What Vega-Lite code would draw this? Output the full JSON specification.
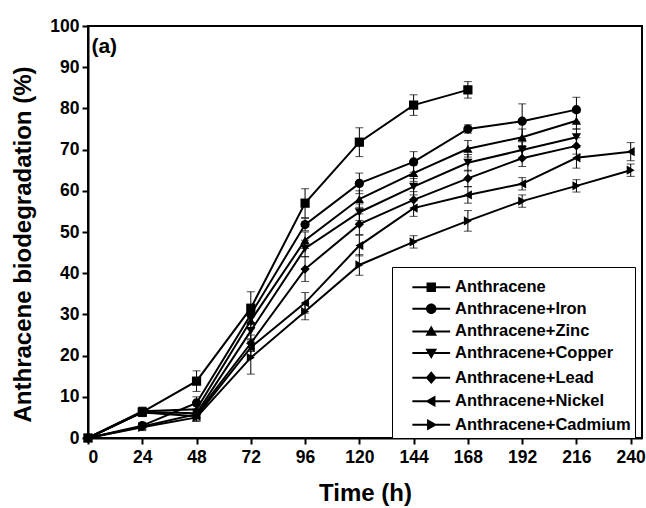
{
  "$schema": "https://vega.github.io/schema/vega-lite/v6.json",
  "autosize": "none",
  "width": 554,
  "height": 412,
  "padding": {"left": 88, "top": 26, "right": 4, "bottom": 70},
  "background": "white",
  "config": {
    "view": {"stroke": "black", "strokeWidth": 2},
    "font": "Liberation Sans",
    "axis": {
      "domainColor": "black", "domainWidth": 2, "tickColor": "black", "tickWidth": 2, "tickSize": 6,
      "labelFont": "Liberation Sans", "labelFontWeight": "bold", "labelFontSize": 17.5, "labelColor": "black",
      "titleFont": "Liberation Sans", "titleFontWeight": "bold", "titleFontSize": 24, "titleColor": "black",
      "grid": false
    }
  },
  "resolve": {"scale": {"shape": "independent"}, "legend": {"shape": "independent"}},
  "data": {"values": [
    {"series": "Anthracene", "time": 0, "value": 0, "err": 0},
    {"series": "Anthracene", "time": 24, "value": 6.3, "err": 1},
    {"series": "Anthracene", "time": 48, "value": 13.8, "err": 2.5},
    {"series": "Anthracene", "time": 72, "value": 31.5, "err": 4},
    {"series": "Anthracene", "time": 96, "value": 57, "err": 3.5},
    {"series": "Anthracene", "time": 120, "value": 71.8, "err": 3.5},
    {"series": "Anthracene", "time": 144, "value": 80.8, "err": 2.5},
    {"series": "Anthracene", "time": 168, "value": 84.5, "err": 2},
    {"series": "Anthracene+Iron", "time": 0, "value": 0, "err": 0},
    {"series": "Anthracene+Iron", "time": 24, "value": 3, "err": 0.8},
    {"series": "Anthracene+Iron", "time": 48, "value": 8.5, "err": 1.5},
    {"series": "Anthracene+Iron", "time": 72, "value": 30, "err": 2},
    {"series": "Anthracene+Iron", "time": 96, "value": 51.8, "err": 1.5},
    {"series": "Anthracene+Iron", "time": 120, "value": 61.8, "err": 2.5},
    {"series": "Anthracene+Iron", "time": 144, "value": 67, "err": 2.5},
    {"series": "Anthracene+Iron", "time": 168, "value": 75, "err": 1},
    {"series": "Anthracene+Iron", "time": 192, "value": 76.9, "err": 4.2},
    {"series": "Anthracene+Iron", "time": 216, "value": 79.7, "err": 3},
    {"series": "Anthracene+Zinc", "time": 0, "value": 0, "err": 0},
    {"series": "Anthracene+Zinc", "time": 24, "value": 6.5, "err": 1},
    {"series": "Anthracene+Zinc", "time": 48, "value": 7, "err": 1.2},
    {"series": "Anthracene+Zinc", "time": 72, "value": 28.5, "err": 2},
    {"series": "Anthracene+Zinc", "time": 96, "value": 48, "err": 2},
    {"series": "Anthracene+Zinc", "time": 120, "value": 58, "err": 2},
    {"series": "Anthracene+Zinc", "time": 144, "value": 64.3, "err": 2},
    {"series": "Anthracene+Zinc", "time": 168, "value": 70.2, "err": 2},
    {"series": "Anthracene+Zinc", "time": 192, "value": 73, "err": 2},
    {"series": "Anthracene+Zinc", "time": 216, "value": 77, "err": 2},
    {"series": "Anthracene+Copper", "time": 0, "value": 0, "err": 0},
    {"series": "Anthracene+Copper", "time": 24, "value": 6.3, "err": 1},
    {"series": "Anthracene+Copper", "time": 48, "value": 6, "err": 1},
    {"series": "Anthracene+Copper", "time": 72, "value": 26, "err": 2},
    {"series": "Anthracene+Copper", "time": 96, "value": 46, "err": 2},
    {"series": "Anthracene+Copper", "time": 120, "value": 54.8, "err": 2},
    {"series": "Anthracene+Copper", "time": 144, "value": 61, "err": 2},
    {"series": "Anthracene+Copper", "time": 168, "value": 66.8, "err": 2},
    {"series": "Anthracene+Copper", "time": 192, "value": 69.9, "err": 2},
    {"series": "Anthracene+Copper", "time": 216, "value": 73, "err": 2},
    {"series": "Anthracene+Lead", "time": 0, "value": 0, "err": 0},
    {"series": "Anthracene+Lead", "time": 24, "value": 2.8, "err": 0.8},
    {"series": "Anthracene+Lead", "time": 48, "value": 5.8, "err": 1},
    {"series": "Anthracene+Lead", "time": 72, "value": 23, "err": 2},
    {"series": "Anthracene+Lead", "time": 96, "value": 41, "err": 3},
    {"series": "Anthracene+Lead", "time": 120, "value": 51.9, "err": 2.5},
    {"series": "Anthracene+Lead", "time": 144, "value": 57.8, "err": 2},
    {"series": "Anthracene+Lead", "time": 168, "value": 63, "err": 2},
    {"series": "Anthracene+Lead", "time": 192, "value": 67.9, "err": 2},
    {"series": "Anthracene+Lead", "time": 216, "value": 70.9, "err": 2},
    {"series": "Anthracene+Nickel", "time": 0, "value": 0, "err": 0},
    {"series": "Anthracene+Nickel", "time": 24, "value": 6.2, "err": 1},
    {"series": "Anthracene+Nickel", "time": 48, "value": 5.3, "err": 1},
    {"series": "Anthracene+Nickel", "time": 72, "value": 22, "err": 2},
    {"series": "Anthracene+Nickel", "time": 96, "value": 32.8, "err": 2.5},
    {"series": "Anthracene+Nickel", "time": 120, "value": 46.7, "err": 2.5},
    {"series": "Anthracene+Nickel", "time": 144, "value": 55.8, "err": 2},
    {"series": "Anthracene+Nickel", "time": 168, "value": 59, "err": 2},
    {"series": "Anthracene+Nickel", "time": 192, "value": 61.7, "err": 1.5},
    {"series": "Anthracene+Nickel", "time": 216, "value": 68, "err": 2.5},
    {"series": "Anthracene+Nickel", "time": 240, "value": 69.5, "err": 2.2},
    {"series": "Anthracene+Cadmium", "time": 0, "value": 0, "err": 0},
    {"series": "Anthracene+Cadmium", "time": 24, "value": 2.6, "err": 0.8},
    {"series": "Anthracene+Cadmium", "time": 48, "value": 5, "err": 1},
    {"series": "Anthracene+Cadmium", "time": 72, "value": 19.5, "err": 4},
    {"series": "Anthracene+Cadmium", "time": 96, "value": 30.7, "err": 2},
    {"series": "Anthracene+Cadmium", "time": 120, "value": 42, "err": 2.5},
    {"series": "Anthracene+Cadmium", "time": 144, "value": 47.6, "err": 1.5},
    {"series": "Anthracene+Cadmium", "time": 168, "value": 52.7, "err": 2.5},
    {"series": "Anthracene+Cadmium", "time": 192, "value": 57.5, "err": 1.5},
    {"series": "Anthracene+Cadmium", "time": 216, "value": 61.2, "err": 1.5},
    {"series": "Anthracene+Cadmium", "time": 240, "value": 65, "err": 1.5}
  ]},
  "layer": [
    {
      "mark": {"type": "errorbar", "color": "black", "ticks": {"size": 8, "strokeWidth": 1}, "rule": {"strokeWidth": 1}},
      "encoding": {
        "x": {"field": "time", "type": "quantitative",
              "scale": {"domain": [0, 245], "nice": false},
              "axis": {"values": [0, 24, 48, 72, 96, 120, 144, 168, 192, 216, 240], "title": "Time (h)", "labelPadding": 4, "titlePadding": 16}},
        "y": {"field": "value", "type": "quantitative",
              "scale": {"domain": [0, 100], "nice": false},
              "axis": {"values": [0, 10, 20, 30, 40, 50, 60, 70, 80, 90, 100], "title": "Anthracene biodegradation (%)", "labelPadding": 3, "titlePadding": 14, "titleY": 218}},
        "yError": {"field": "err"}
      }
    },
    {
      "mark": {"type": "line", "color": "black", "strokeWidth": 2},
      "encoding": {
        "x": {"field": "time", "type": "quantitative"},
        "y": {"field": "value", "type": "quantitative"},
        "detail": {"field": "series"},
        "order": {"field": "time"}
      }
    },
    {
      "mark": {"type": "point", "filled": true, "color": "black", "opacity": 1, "size": 85},
      "encoding": {
        "x": {"field": "time", "type": "quantitative"},
        "y": {"field": "value", "type": "quantitative"},
        "shape": {
          "field": "series", "type": "nominal",
          "scale": {
            "domain": ["Anthracene", "Anthracene+Iron", "Anthracene+Zinc", "Anthracene+Copper", "Anthracene+Lead", "Anthracene+Nickel", "Anthracene+Cadmium"],
            "range": ["square", "circle", "triangle-up", "triangle-down", "diamond", "triangle-left", "triangle-right"]
          },
          "legend": null
        }
      }
    },
    {
      "mark": {"type": "point", "filled": true, "color": "black", "opacity": 0, "size": 110},
      "encoding": {
        "x": {"field": "time", "type": "quantitative"},
        "y": {"field": "value", "type": "quantitative"},
        "shape": {
          "field": "series", "type": "nominal",
          "scale": {
            "domain": ["Anthracene", "Anthracene+Iron", "Anthracene+Zinc", "Anthracene+Copper", "Anthracene+Lead", "Anthracene+Nickel", "Anthracene+Cadmium"],
            "range": [
              "M-3.6,-0.19H3.6V0.19H-3.6ZM-0.9,-0.9H0.9V0.9H-0.9Z",
              "M-3.6,-0.19H3.6V0.19H-3.6ZM1,0A1,1 0 1,1 -1,0A1,1 0 1,1 1,0Z",
              "M-3.6,-0.19H3.6V0.19H-3.6ZM0,-1.15L1.1,0.8L-1.1,0.8Z",
              "M-3.6,-0.19H3.6V0.19H-3.6ZM0,1.15L-1.1,-0.8L1.1,-0.8Z",
              "M-3.6,-0.19H3.6V0.19H-3.6ZM0,-1.2L1.05,0L0,1.2L-1.05,0Z",
              "M-3.6,-0.19H3.6V0.19H-3.6ZM-1.15,0L0.8,-1.1L0.8,1.1Z",
              "M-3.6,-0.19H3.6V0.19H-3.6ZM1.15,0L-0.8,1.1L-0.8,-1.1Z"
            ]
          },
          "legend": {
            "title": " ", "titleFontSize": 7, "titlePadding": 1,
            "orient": "none", "legendX": 304, "legendY": 241,
            "fillColor": "white", "strokeColor": "black", "padding": 4,
            "labelFont": "Liberation Sans", "labelFontWeight": "bold", "labelFontSize": 16.5, "labelColor": "black", "labelLimit": 400,
            "symbolSize": 110, "symbolOffset": 27, "labelOffset": 15.5, "rowPadding": 4.6,
            "symbolOpacity": 1, "symbolFillColor": "black"
          }
        }
      }
    },
    {
      "data": {"values": [{"label": "(a)", "time": 1.5, "value": 95}]},
      "mark": {"type": "text", "align": "left", "baseline": "middle", "font": "Liberation Sans", "fontWeight": "bold", "fontSize": 21, "color": "black"},
      "encoding": {
        "x": {"field": "time", "type": "quantitative"},
        "y": {"field": "value", "type": "quantitative"},
        "text": {"field": "label"}
      }
    }
  ]
}
